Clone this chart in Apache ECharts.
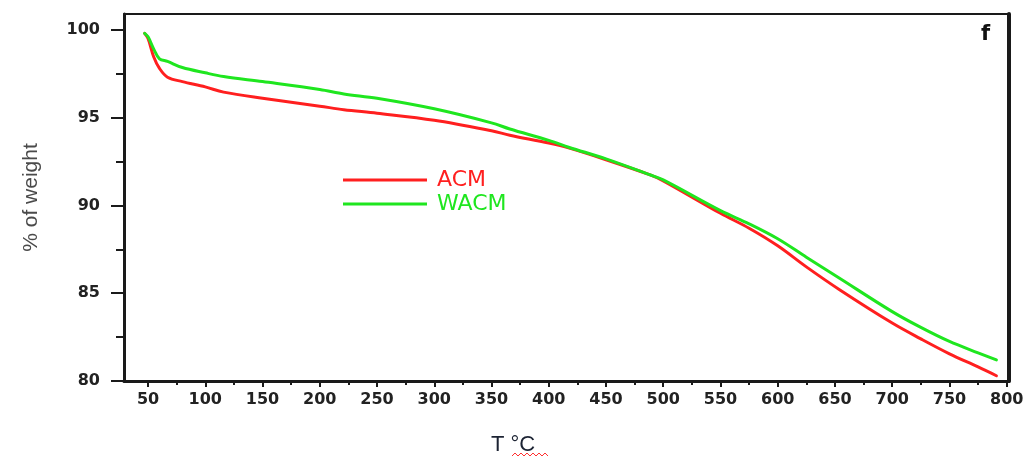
<!DOCTYPE html>
<html>
<head>
<meta charset="utf-8">
<script src="https://cdn.jsdelivr.net/npm/echarts@6/dist/echarts.min.js"></script>
<style>
html,body{margin:0;padding:0;background:#fff;}
#chart{width:1036px;height:459px;}
</style>
</head>
<body>
<div id="chart"></div>
<script>
// Temperature (°C) sample points
var temps = [47, 50, 55, 60, 67, 80, 100, 116, 150, 200, 221, 250, 300, 350, 366, 400, 418, 450, 488, 500, 550, 575, 600, 625, 654, 700, 725, 750, 775, 791];
// % of weight
var acm  = [99.8, 99.5, 98.45, 97.8, 97.3, 97.05, 96.75, 96.45, 96.1, 95.65, 95.45, 95.25, 94.85, 94.25, 94.0, 93.55, 93.26, 92.6, 91.75, 91.4, 89.55, 88.7, 87.7, 86.5, 85.2, 83.3, 82.4, 81.55, 80.8, 80.3];
var wacm = [99.8, 99.6, 98.9, 98.35, 98.2, 97.85, 97.55, 97.34, 97.05, 96.6, 96.35, 96.1, 95.5, 94.7, 94.35, 93.7, 93.3, 92.65, 91.75, 91.45, 89.7, 88.95, 88.1, 87.05, 85.85, 83.95, 83.05, 82.25, 81.6, 81.2];
// tick values
var xTicks = [50, 100, 150, 200, 250, 300, 350, 400, 450, 500, 550, 600, 650, 700, 750, 800];
var xMinor = [75, 125, 175, 225, 275, 325, 375, 425, 475, 525, 575, 625, 675, 725, 775];
var yTicks = [80, 85, 90, 95, 100];
var yMinor = [82.5, 87.5, 92.5, 97.5];
var seriesNames = ['ACM', 'WACM'];
var colors = ['#ff1f1f', '#1fe61f'];

function pairs(xs, ys) { return xs.map(function (x, i) { return [x, ys[i]]; }); }

var XMIN = 29, XMAX = 802, YMIN = 80, YMAX = 100.9;
var axisColor = '#1a1a1a';
var labelFont = { fontFamily: 'DejaVu Sans', fontWeight: 'bold', fontSize: 16, color: '#222' };

var chart = echarts.init(document.getElementById('chart'), null, { renderer: 'canvas' });
chart.setOption({
  animation: false,
  backgroundColor: '#fff',
  grid: { left: 124, right: 27, top: 14, bottom: 78, containLabel: false },
  legend: {
    orient: 'vertical',
    left: 338,
    top: 164,
    itemWidth: 84,
    itemHeight: 3,
    itemGap: 2,
    icon: 'rect',
    data: [
      { name: seriesNames[0], textStyle: { color: colors[0] } },
      { name: seriesNames[1], textStyle: { color: colors[1] } }
    ],
    textStyle: { fontFamily: 'DejaVu Sans', fontSize: 22, padding: [0, 0, 0, 5] }
  },
  xAxis: [
    {
      type: 'value', min: XMIN, max: XMAX, position: 'bottom',
      axisLine: { show: true, onZero: false, lineStyle: { color: axisColor, width: 3 } },
      axisTick: { show: true, inside: false, length: 6, lineStyle: { color: axisColor, width: 2 }, customValues: xTicks },
      axisLabel: Object.assign({ show: true, margin: 11, customValues: xTicks }, labelFont),
      splitLine: { show: false }
    },
    {
      type: 'value', min: XMIN, max: XMAX, position: 'bottom',
      axisLine: { show: false },
      axisTick: { show: true, inside: false, length: 4, lineStyle: { color: axisColor, width: 2 }, customValues: xMinor },
      axisLabel: { show: false },
      splitLine: { show: false }
    },
    {
      type: 'value', min: XMIN, max: XMAX, position: 'top',
      axisLine: { show: true, onZero: false, lineStyle: { color: axisColor, width: 2 } },
      axisTick: { show: false }, axisLabel: { show: false }, splitLine: { show: false }
    }
  ],
  yAxis: [
    {
      type: 'value', min: YMIN, max: YMAX, position: 'left',
      name: '% of weight', nameLocation: 'middle', nameGap: 82,
      nameTextStyle: { fontFamily: 'Liberation Sans', fontSize: 21, color: '#4a4a4a' },
      axisLine: { show: true, onZero: false, lineStyle: { color: axisColor, width: 3 } },
      axisTick: { show: true, inside: false, length: 13, lineStyle: { color: axisColor, width: 2 }, customValues: yTicks },
      axisLabel: Object.assign({ show: true, margin: 24, customValues: yTicks }, labelFont),
      splitLine: { show: false }
    },
    {
      type: 'value', min: YMIN, max: YMAX, position: 'left',
      axisLine: { show: false },
      axisTick: { show: true, inside: false, length: 8, lineStyle: { color: axisColor, width: 2 }, customValues: yMinor },
      axisLabel: { show: false },
      splitLine: { show: false }
    },
    {
      type: 'value', min: YMIN, max: YMAX, position: 'right',
      axisLine: { show: true, onZero: false, lineStyle: { color: axisColor, width: 4 } },
      axisTick: { show: false }, axisLabel: { show: false }, splitLine: { show: false }
    }
  ],
  series: [
    {
      name: seriesNames[0], type: 'line', xAxisIndex: 0, yAxisIndex: 0,
      data: pairs(temps, acm), showSymbol: false, symbol: 'none',
      smooth: 0.35,
      lineStyle: { color: colors[0], width: 3, cap: 'round', join: 'round' },
      itemStyle: { color: colors[0] }, z: 3
    },
    {
      name: seriesNames[1], type: 'line', xAxisIndex: 0, yAxisIndex: 0,
      data: pairs(temps, wacm), showSymbol: false, symbol: 'none',
      smooth: 0.35,
      lineStyle: { color: colors[1], width: 3, cap: 'round', join: 'round' },
      itemStyle: { color: colors[1] }, z: 4
    }
  ],
  graphic: [
    {
      type: 'text', left: 981, top: 24, z: 10,
      style: { text: 'f', fontFamily: 'DejaVu Sans', fontWeight: 'bold', fontSize: 21, fill: '#111' }
    },
    {
      type: 'text', x: 513, y: 445, z: 10,
      style: { text: 'T °C', fontFamily: 'Liberation Sans', fontSize: 22, fill: '#1c2333', align: 'center', verticalAlign: 'middle' }
    },
    {
      type: 'polyline', z: 10,
      shape: { points: [[512, 456], [515, 453], [518, 456], [521, 453], [524, 456], [527, 453], [530, 456], [533, 453], [536, 456], [539, 453], [542, 456], [545, 453], [548, 456]] },
      style: { stroke: '#ff3030', lineWidth: 1, fill: null }
    }
  ]
});
</script>
</body>
</html>
